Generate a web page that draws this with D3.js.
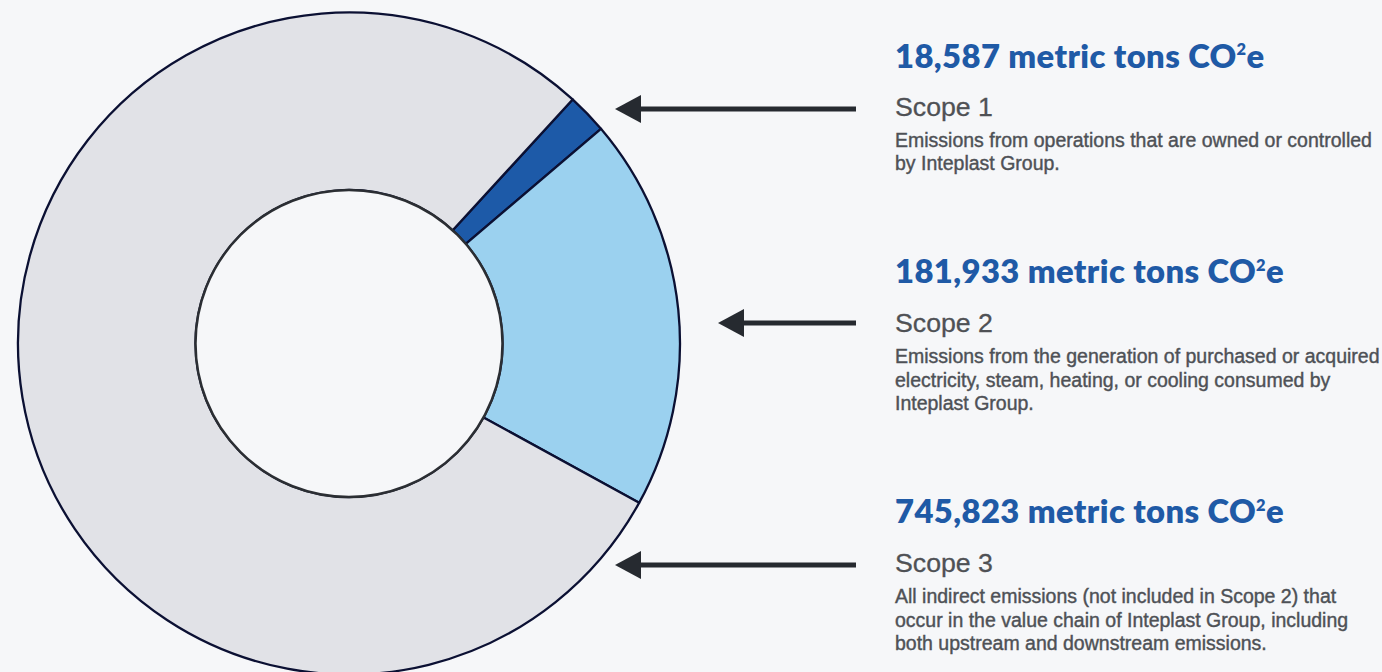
<!DOCTYPE html>
<html><head><meta charset="utf-8">
<script src="https://cdn.jsdelivr.net/npm/d3@7"></script>
<style>html,body{margin:0;padding:0;background:#f6f7f9;}svg{display:block;}</style>
</head><body>
<svg id="c" width="1382" height="672"></svg>
<script>
const scopes = ["Scope 1", "Scope 2", "Scope 3"];
const values = [18587, 181933, 745823];
const valueLabels = ["18,587", "181,933", "745,823"];
const descriptions = [
  ["Emissions from operations that are owned or controlled", "by Inteplast Group."],
  ["Emissions from the generation of purchased or acquired", "electricity, steam, heating, or cooling consumed by", "Inteplast Group."],
  ["All indirect emissions (not included in Scope 2) that", "occur in the value chain of Inteplast Group, including", "both upstream and downstream emissions."]
];
const colors = ["#1d5aa8", "#9bd1ef", "#e1e2e7"];

const svg = d3.select("#c");
svg.append("rect").attr("width",1382).attr("height",672).attr("fill","#f6f7f9");

const cx = 349, cy = 343.5, R = 331, r = 153.5;
const a0 = 42.5 * Math.PI / 180;
const pie = d3.pie().sort(null).startAngle(a0).endAngle(a0 + 2*Math.PI);
const arc = d3.arc().innerRadius(r).outerRadius(R);
const g = svg.append("g").attr("transform", `translate(${cx},${cy})`);
g.selectAll("path.slice").data(pie(values)).join("path")
  .attr("class","slice")
  .attr("d", arc)
  .attr("fill", (d,i) => colors[i])
  .attr("stroke", "#0b1033")
  .attr("stroke-width", 2.3)
  .attr("stroke-linejoin","round");
g.append("circle").attr("r", r).attr("fill", "#f6f7f9").attr("stroke", "#2b2e33").attr("stroke-width", 2.5);

// arrows
const arrows = [{y:109, tip:615}, {y:323, tip:718}, {y:565, tip:615}];
const arrowG = svg.append("g");
arrows.forEach(a => {
  arrowG.append("line").attr("x1", a.tip + 22).attr("x2", 856).attr("y1", a.y).attr("y2", a.y)
    .attr("stroke", "#262a30").attr("stroke-width", 5);
  arrowG.append("path").attr("d", `M${a.tip},${a.y} L${a.tip+26},${a.y-14} L${a.tip+26},${a.y+14} Z`)
    .attr("fill", "#262a30");
});

// text
const tx = 895;
const titleY = [67.7, 283, 523];
const scopeY = [116, 331.7, 571.7];
const descY = [146.7, 363.3, 603];
const lh = 23.5;

function fit(sel, target) {
  const w = sel.node().getComputedTextLength();
  const fs = parseFloat(sel.attr("font-size"));
  return fs * target / w;
}

const titles = scopes.map((s,i) => {
  const t = svg.append("text").attr("x", tx).attr("y", titleY[i])
    .attr("font-family", "Lato, 'Noto Sans', sans-serif").attr("font-weight", 800)
    .attr("font-size", 32).attr("fill", "#1f5aa6").attr("letter-spacing", 0.4);
  t.append("tspan").text(valueLabels[i] + " metric tons CO");
  t.append("tspan").attr("class","sup").attr("dy", -12).attr("font-size", 16).text("2");
  t.append("tspan").attr("class","e").attr("dy", 12).text("e");
  return t;
});
const tfs = fit(titles[0], 370);
titles.forEach(t => {
  t.attr("font-size", tfs);
  t.select(".sup").attr("font-size", tfs*0.5).attr("dy", -tfs*0.38);
  t.select(".e").attr("dy", tfs*0.38);
});

const labels = scopes.map((s,i) => svg.append("text").attr("x", tx).attr("y", scopeY[i])
  .attr("font-family", "'Liberation Sans', Arial, sans-serif").attr("font-size", 24)
  .attr("fill", "#4f5155").attr("stroke", "#4f5155").attr("stroke-width", 0.3).text(s));
const lfs = fit(labels[0], 98);
labels.forEach(l => l.attr("font-size", lfs));

const descs = [];
descriptions.forEach((lines, i) => {
  lines.forEach((ln, j) => {
    descs.push(svg.append("text").attr("x", tx).attr("y", descY[i] + j*lh)
      .attr("font-family", "'Liberation Sans', Arial, sans-serif").attr("font-size", 16)
      .attr("fill", "#4e5156").attr("stroke", "#4e5156").attr("stroke-width", 0.4)
      .text(ln));
  });
});
const dfs = fit(descs[0], 477);
descs.forEach(d => d.attr("font-size", dfs));
</script>
</body></html>
